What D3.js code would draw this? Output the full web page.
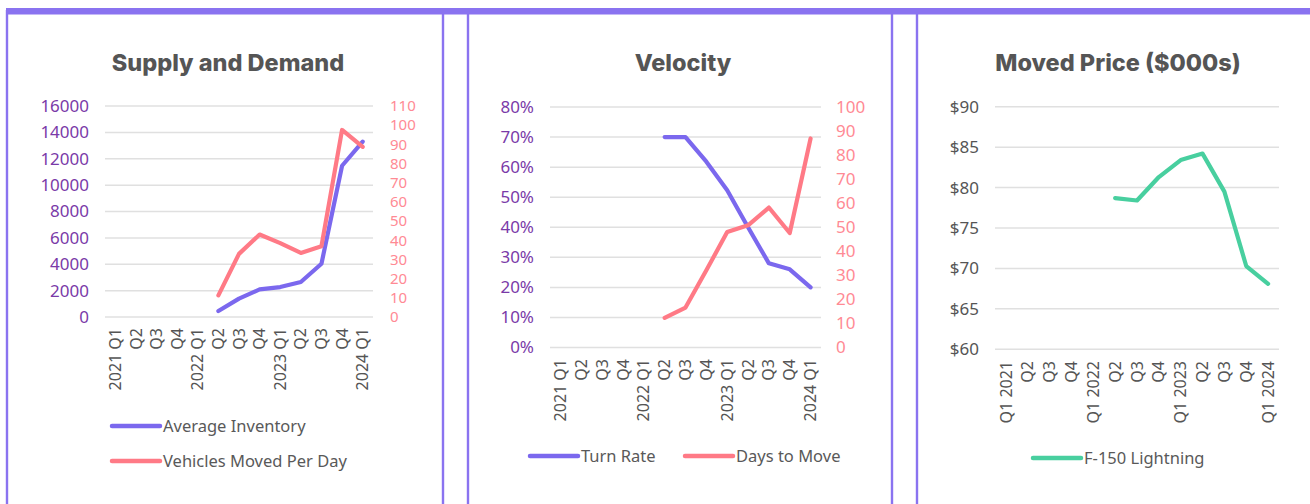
<!DOCTYPE html>
<html>
<head>
<meta charset="utf-8">
<script src="https://cdn.jsdelivr.net/npm/d3@7"></script>
<style>
  html, body { margin: 0; padding: 0; background: #fff; }
  svg { display: block; }
  .title { font-family: "Inter", "Noto Sans", sans-serif; font-weight: 800; font-size: 23.5px; fill: #555; }
  .tick text { font-family: "Noto Sans", sans-serif; }
  .legend text { font-family: "Noto Sans", sans-serif; font-size: 16.5px; fill: #595959; }
</style>
</head>
<body>
<svg id="chart" width="1310" height="504"></svg>
<script>
// Quarter categories (two label styles used by the panels)
const quartersA = ["2021 Q1","Q2","Q3","Q4","2022 Q1","Q2","Q3","Q4","2023 Q1","Q2","Q3","Q4","2024 Q1"];
const quartersB = ["Q1 2021","Q2","Q3","Q4","Q1 2022","Q2","Q3","Q4","Q1 2023","Q2","Q3","Q4","Q1 2024"];

// Supply and Demand
const avgInventory = [null,null,null,null,null,450,1390,2090,2270,2650,4040,11470,13300];
const vehiclesMovedPerDay = [null,null,null,null,null,11.3,32.9,43,38.5,33.4,36.9,97.5,88.7];
const inventoryTicks = [0,2000,4000,6000,8000,10000,12000,14000,16000];
const movedTicks = [0,10,20,30,40,50,60,70,80,90,100,110];

// Velocity
const turnRate = [null,null,null,null,null,70,70,61.8,52.3,40,28,26,20];
const daysToMove = [null,null,null,null,null,12.3,16.6,32.1,48,50.8,58.2,47.6,86.9];
const turnTicks = [0,10,20,30,40,50,60,70,80];
const daysTicks = [0,10,20,30,40,50,60,70,80,90,100];

// Moved Price ($000s)
const movedPrice = [null,null,null,null,null,78.7,78.4,81.3,83.4,84.2,79.5,70.3,68.1];
const priceTicks = [60,65,70,75,80,85,90];

const COL = {
  border: "#8a73f0",
  purple: "#7b68ee",
  red: "#ff7a86",
  green: "#48cf9f",
  leftTick: "#7a3aa8",
  rightTick: "#ff8a94",
  grid: "#e0e0e0",
  text: "#555555"
};

const svg = d3.select("#chart");

// Panel frames
const panels = [[7,443],[468,892],[917,1318]];
panels.forEach(([x0,x1]) => {
  svg.append("line").attr("x1",x0).attr("x2",x0).attr("y1",10).attr("y2",504)
    .attr("stroke",COL.border).attr("stroke-width",2.4);
  svg.append("line").attr("x1",x1).attr("x2",x1).attr("y1",10).attr("y2",504)
    .attr("stroke",COL.border).attr("stroke-width",2.4);
});
svg.append("rect").attr("x",6).attr("y",8).attr("width",1304).attr("height",6.5).attr("fill",COL.border);

function drawPanel(cfg) {
  const g = svg.append("g");
  const x = d3.scaleBand().domain(d3.range(cfg.cats.length)).range([cfg.x0, cfg.x1]);
  const yL = d3.scaleLinear().domain(cfg.leftDomain).range([cfg.yBottom, cfg.yTop]);

  // title
  g.append("text").attr("class","title").attr("x",cfg.titleX).attr("y",71)
    .attr("text-anchor","middle").text(cfg.title);

  // grid
  g.append("g").selectAll("line").data(cfg.leftTicks).join("line")
    .attr("x1",cfg.x0).attr("x2",cfg.x1)
    .attr("y1",d=>yL(d)).attr("y2",d=>yL(d))
    .attr("stroke",COL.grid).attr("stroke-width",1.5);

  // left axis
  const la = g.append("g").attr("transform",`translate(${cfg.leftLabelX},0)`)
    .call(d3.axisLeft(yL).tickValues(cfg.leftTicks).tickSize(0).tickPadding(0).tickFormat(cfg.leftFmt));
  la.select(".domain").remove();
  la.selectAll("text").attr("fill",cfg.leftColor).attr("font-size","17px");

  // right axis
  let yR = null;
  if (cfg.rightDomain) {
    yR = d3.scaleLinear().domain(cfg.rightDomain).range([cfg.yBottom, cfg.yTop]);
    const ra = g.append("g").attr("transform",`translate(${cfg.rightLabelX},0)`)
      .call(d3.axisRight(yR).tickValues(cfg.rightTicks).tickSize(0).tickPadding(0));
    ra.select(".domain").remove();
    ra.selectAll("text").attr("fill",COL.rightTick).attr("font-size",cfg.rightFont);
  }

  // category axis (rotated labels)
  const xa = g.append("g").attr("transform",`translate(0,${cfg.catY})`)
    .call(d3.axisBottom(x).tickSize(0).tickPadding(0).tickFormat(i=>cfg.cats[i]));
  xa.select(".domain").remove();
  xa.selectAll("text")
    .attr("fill",COL.text).attr("font-size","16px")
    .attr("transform","rotate(-90)")
    .attr("text-anchor","end")
    .attr("dy","0.35em").attr("x",0).attr("y",0);

  // series
  cfg.series.forEach(s => {
    const sc = s.axis === "right" ? yR : yL;
    const line = d3.line()
      .defined(d => d != null)
      .x((d,i) => x(i) + x.bandwidth()/2)
      .y(d => sc(d));
    g.append("path").datum(s.values)
      .attr("d", line)
      .attr("fill","none").attr("stroke",s.color).attr("stroke-width",4.2)
      .attr("stroke-linejoin","round").attr("stroke-linecap","round");
  });

  // legend
  const lg = g.append("g").attr("class","legend");
  cfg.legend.forEach(item => {
    lg.append("line").attr("x1",item.x).attr("x2",item.x+48).attr("y1",item.y).attr("y2",item.y)
      .attr("stroke",item.color).attr("stroke-width",4.5).attr("stroke-linecap","round");
    lg.append("text").attr("x",item.x+51).attr("y",item.y).attr("dy","0.35em").text(item.label);
  });
}

drawPanel({
  title: "Supply and Demand", titleX: 228,
  cats: quartersA, x0: 105, x1: 373, yTop: 106, yBottom: 317,
  leftDomain: [0,16000], leftTicks: inventoryTicks, leftLabelX: 89, leftColor: COL.leftTick,
  leftFmt: d3.format("d"),
  rightDomain: [0,110], rightTicks: movedTicks, rightLabelX: 390, rightFont: "15px",
  catY: 328,
  series: [
    {values: avgInventory, color: COL.purple, axis: "left"},
    {values: vehiclesMovedPerDay, color: COL.red, axis: "right"}
  ],
  legend: [
    {x: 112, y: 426, color: COL.purple, label: "Average Inventory"},
    {x: 112, y: 461, color: COL.red, label: "Vehicles Moved Per Day"}
  ]
});

drawPanel({
  title: "Velocity", titleX: 683,
  cats: quartersA, x0: 550, x1: 821, yTop: 107, yBottom: 347.5,
  leftDomain: [0,80], leftTicks: turnTicks, leftLabelX: 534, leftColor: COL.leftTick,
  leftFmt: d => d + "%",
  rightDomain: [0,100], rightTicks: daysTicks, rightLabelX: 836, rightFont: "17px",
  catY: 359,
  series: [
    {values: turnRate, color: COL.purple, axis: "left"},
    {values: daysToMove, color: COL.red, axis: "right"}
  ],
  legend: [
    {x: 530, y: 456, color: COL.purple, label: "Turn Rate"},
    {x: 685, y: 456, color: COL.red, label: "Days to Move"}
  ]
});

drawPanel({
  title: "Moved Price ($000s)", titleX: 1118,
  cats: quartersB, x0: 995, x1: 1279, yTop: 106.7, yBottom: 349.3,
  leftDomain: [60,90], leftTicks: priceTicks, leftLabelX: 979, leftColor: COL.text,
  leftFmt: d => "$" + d,
  rightDomain: null,
  catY: 361,
  series: [
    {values: movedPrice, color: COL.green, axis: "left"}
  ],
  legend: [
    {x: 1033, y: 458, color: COL.green, label: "F-150 Lightning"}
  ]
});
</script>
</body>
</html>
